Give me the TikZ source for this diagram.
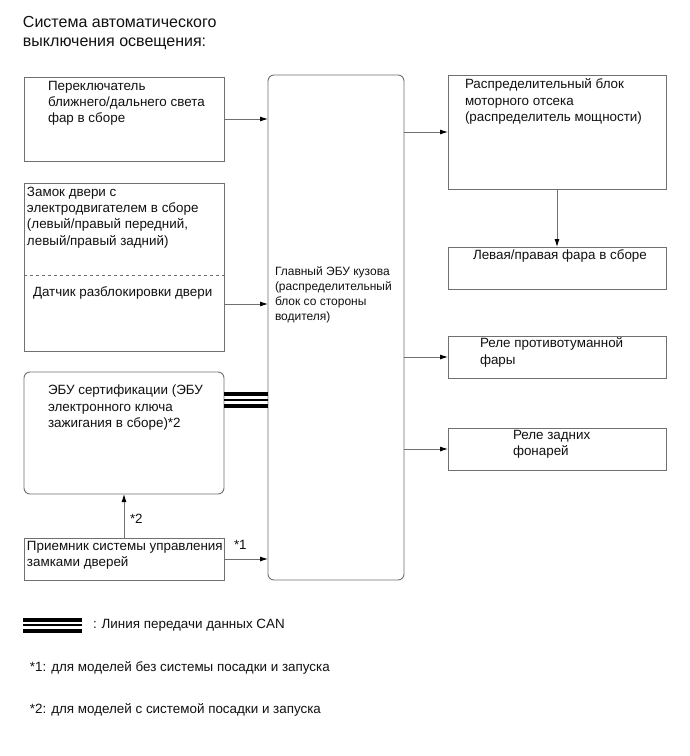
\documentclass[tikz,border=0pt]{standalone}
\usepackage{fontspec}
\setmainfont{Liberation Sans}
\usepackage{tikz}
\usetikzlibrary{arrows.meta,positioning,calc}
\definecolor{cLine}{HTML}{707070}
\definecolor{cText}{HTML}{111111}
\tikzset{
  box/.style   ={draw=cLine,fill=white,line width=0.9pt,inner sep=0pt,outer sep=0pt,
                 anchor=north west},
  rbox/.style  ={box,rounded corners=6pt},
  txt/.style   ={font=\fontsize{13.4}{16.3}\selectfont,text=cText,align=left,inner sep=0pt,
                 anchor=north west},
  sig/.style   ={-{Latex[length=8pt,width=5pt,black]},draw=cLine,line width=0.9pt},
  can/.style   ={draw=black,line width=#1},
  tag/.style   ={font=\fontsize{13.4}{15}\selectfont,text=cText,inner sep=0pt,anchor=west},
}

\begin{document}
\begin{tikzpicture}[x=1pt,y=1pt,every node/.style={outer sep=0pt}]
\useasboundingbox[fill=white] (0,0) rectangle (690,-756);

\node[txt,font=\fontsize{16}{19}\selectfont,anchor=north west] (title) at (23,-16)
  {Система автоматического\\выключения освещения:};

% left column
\node[box,minimum width=200pt,minimum height=84pt]  (sw)   at (24,-77)  {};
\node[box,minimum width=200pt,minimum height=168pt] (lock) at (24,-183) {};
\node[rbox,minimum width=200pt,minimum height=122pt] (cert) at (24,-372) {};
\node[box,minimum width=200pt,minimum height=42pt]  (recv) at (24,-538) {};
\draw[cLine,dashed,line width=0.7pt] ([yshift=-92pt]lock.north west) -- ([yshift=-92pt]lock.north east);

\node[txt] (swt)   at (48,-81)  {Переключатель\\ближнего/дальнего света\\фар в сборе};
\node[txt] (lockt) at (27,-187) {Замок двери с\\электродвигателем в сборе\\(левый/правый передний,\\левый/правый задний)};
\node[txt,anchor=west] (unl) at (33,-293) {Датчик разблокировки двери};
\node[txt] (certt) at (48,-385) {ЭБУ сертификации (ЭБУ\\электронного ключа\\зажигания в сборе)*2};
\node[txt] (recvt) at (27,-541) {Приемник системы управления\\замками дверей};

% body ECU
\node[rbox,minimum width=136pt,minimum height=505pt] (ecu) at (268,-75) {};
\node[txt,font=\fontsize{12}{14.7}\selectfont] (ecut) at (275,-267)
  {Главный ЭБУ кузова\\(распределительный\\блок со стороны\\водителя)};

% right column
\node[box,minimum width=218pt,minimum height=114pt] (jb)   at (448,-75)  {};
\node[box,minimum width=218pt,minimum height=42pt]  (hl)   at (448,-247) {};
\node[box,minimum width=218pt,minimum height=42pt]  (fog)  at (448,-336) {};
\node[box,minimum width=218pt,minimum height=42pt]  (tail) at (448,-428) {};

\node[txt] (jbt)   at (465,-79)  {Распределительный блок\\моторного отсека\\(распределитель мощности)};
\node[txt,anchor=west] (hlt) at (473,-256) {Левая/правая фара в сборе};
\node[txt] (fogt)  at (480,-338) {Реле противотуманной\\фары};
\node[txt] (tailt) at (513,-430) {Реле задних\\фонарей};

% connectors
\draw[sig] (sw.east) -- (sw.east -| ecu.west);
\draw[sig] ([yshift=47pt]lock.south east) -- ([yshift=47pt]lock.south east -| ecu.west);
\draw[sig] (recv.east) -- (recv.east -| ecu.west);
\draw[sig] (recv.north) -- (cert.south);
\draw[sig] (jb.west -| ecu.east) -- (jb.west);
\draw[sig] (jb.south) -- (hl.north);
\draw[sig] (fog.west -| ecu.east) -- (fog.west);
\draw[sig] (tail.west -| ecu.east) -- (tail.west);

\node[tag] (s2) at (130,-519) {*2};
\node[tag] (s1) at (234,-545) {*1};

% CAN bus
\foreach \dy/\w in {39/4pt, 33/1.6pt, 27/4pt}{
  \draw[can=\w] ([yshift=\dy pt]cert.east) -- ([yshift=\dy pt]cert.east -| ecu.west);
}

% legend
\coordinate (lg) at (23,-625);
\foreach \dy/\w in {5/4pt, 0/1.6pt, -6/4pt}{
  \draw[can=\w] ([yshift=\dy pt]lg) -- ++(59,0);
}
\node[tag] (lgt) at (93,-625) {: Линия передачи данных CAN};
\node[tag] (n1) at (30,-668) {*1: для моделей без системы посадки и запуска};
\node[tag] (n2) at (30,-710) {*2: для моделей с системой посадки и запуска};
\end{tikzpicture}
\end{document}
